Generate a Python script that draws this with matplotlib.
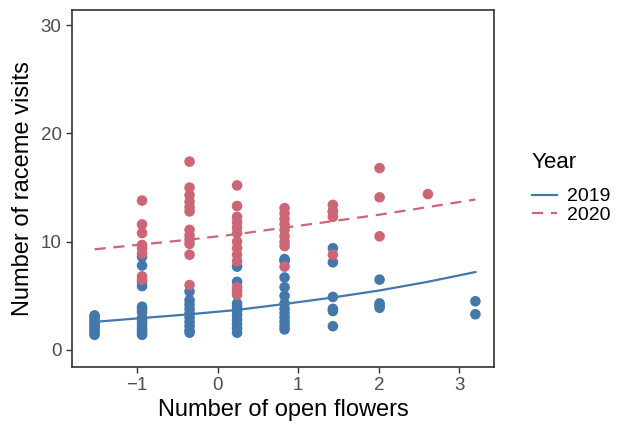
import matplotlib
matplotlib.use("Agg")
import matplotlib.pyplot as plt
from matplotlib.lines import Line2D

plt.rcParams['font.family'] = ['Liberation Sans', 'DejaVu Sans']

# flower positions (scaled number of open flowers)
x_levels = [-1.53, -0.94, -0.35, 0.24, 0.83, 1.43, 2.01, 2.61, 3.20]

# 2019 observations: (x level index, visits)
visits_2019 = {
    0: [1.4, 1.6, 1.8, 2.0, 2.2, 2.4, 2.6, 2.8, 3.0, 3.2],
    1: [1.4, 1.6, 1.8, 2.0, 2.3, 2.6, 2.8, 3.0, 3.5, 3.8, 4.0, 5.9, 6.3, 7.8, 8.6],
    2: [1.6, 1.8, 2.2, 2.6, 3.0, 3.4, 3.8, 4.2, 4.6, 5.4],
    3: [1.6, 2.0, 2.4, 2.8, 3.2, 3.6, 4.0, 4.3, 6.3, 7.7],
    4: [1.9, 2.2, 2.6, 3.0, 3.4, 3.8, 4.3, 5.0, 5.8, 6.7, 8.2, 8.4],
    5: [2.2, 3.6, 3.8, 4.9, 8.1, 9.4, 12.8],
    6: [3.9, 4.1, 4.3, 6.5],
    8: [3.3, 4.5],
}

# 2020 observations
visits_2020 = {
    1: [6.5, 6.8, 8.9, 9.4, 9.7, 10.8, 11.6, 13.8],
    2: [6.0, 8.8, 9.8, 10.2, 10.6, 11.1, 12.8, 13.2, 13.7, 14.3, 15.0, 17.4],
    3: [5.1, 5.5, 5.8, 8.2, 8.8, 9.4, 10.0, 10.8, 11.3, 11.8, 12.3, 13.3, 15.2],
    4: [7.7, 9.6, 10.0, 10.5, 11.1, 11.6, 12.1, 12.6, 13.1],
    5: [8.8, 12.3, 12.8, 13.4],
    6: [10.5, 14.1, 16.8],
    7: [14.4],
}

# fitted curves
fit_x = [-1.53, -0.94, -0.35, 0.24, 0.83, 1.43, 2.01, 2.61, 3.20]
fit_2019 = [2.6, 2.95, 3.3, 3.7, 4.25, 4.85, 5.5, 6.3, 7.2]
fit_2020 = [9.3, 9.75, 10.2, 10.7, 11.3, 11.9, 12.5, 13.2, 13.9]

blue = '#4477AA'
red = '#CC6677'
dark = '#333333'
grey = '#4D4D4D'

fig = plt.figure(figsize=(6.3, 4.26), dpi=100)
ax = fig.add_axes([0.1143, 0.1385, 0.6697, 0.838])

for visits, col in [(visits_2019, blue), (visits_2020, red)]:
    xs, ys = [], []
    for i, vals in visits.items():
        xs += [x_levels[i]] * len(vals)
        ys += vals
    ax.scatter(xs, ys, s=58, color=col, edgecolors='none', zorder=2)

ax.plot(fit_x, fit_2019, color=blue, lw=1.6, zorder=3)
ax.plot(fit_x, fit_2020, color=red, lw=1.6, ls=(0, (5, 3.5)), zorder=3)

ax.set_xlim(-1.81, 3.43)
ax.set_ylim(-1.57, 31.4)
ax.set_xticks([-1, 0, 1, 2, 3])
ax.set_xticklabels(['\u22121', '0', '1', '2', '3'])
ax.set_yticks([0, 10, 20, 30])
ax.tick_params(colors=dark, labelcolor=grey, labelsize=13.5, length=4, width=1)
for sp in ax.spines.values():
    sp.set_color(dark)
    sp.set_linewidth(1.2)

ax.set_xlabel('Number of open flowers', fontsize=17, labelpad=3)
ax.set_ylabel('Number of raceme visits', fontsize=17, labelpad=5)

# legend: title as separate text so the gap matches
fig.text(0.8444, 0.6197, 'Year', fontsize=16, va='center', ha='left')
handles = [Line2D([], [], color=blue, lw=1.6),
           Line2D([], [], color=red, lw=1.6, ls=(0, (5, 3.5)))]
fig.legend(handles, ['2019', '2020'], loc='upper left',
           bbox_to_anchor=(0.8444, 0.559), frameon=False, fontsize=14,
           handlelength=1.3, handletextpad=0.5, labelspacing=0.05,
           borderpad=0, borderaxespad=0)

fig.savefig('out.png', dpi=100)
